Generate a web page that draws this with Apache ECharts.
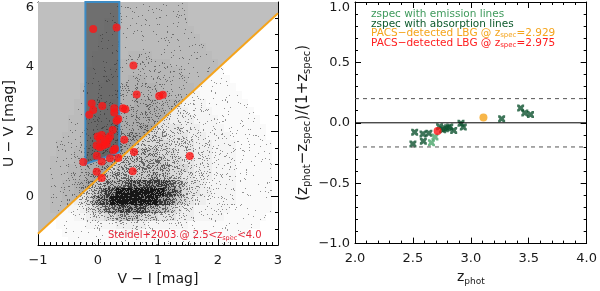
<!DOCTYPE html>
<html><head><meta charset="utf-8">
<script src="https://cdn.jsdelivr.net/npm/echarts@6/dist/echarts.min.js"></script>
<style>html,body{margin:0;padding:0;background:#fff}#c{width:600px;height:291px}</style>
</head><body><div id="c"></div>
<script>
// ---------- Left panel : V-I vs U-V ----------
const leftXRange = [-1, 3];
const leftYRange = [-1.5, 6];
const leftYTicks = [0, 2, 4, 6];
const cutLineX = [-1, 3];
const cutLineY = [-1.15, 5.65];
const boxX = [-0.21, 0.355];
const boxBottomY = [1.0, 1.37];
const boxTopY = 6;
// photometric sample density (levels 0-9); rows from U-V=6 downward, columns from V-I=-1 rightward
const cloudCellW = 0.1, cloudCellH = 0.25;
const cloudGrid = [
 "0000000000"+"0011111111"+"1111100000"+"0000000000",
 "0000000000"+"0011111111"+"1111100000"+"0000000000",
 "0000000000"+"0111111111"+"1111100000"+"0000000000",
 "0000000000"+"0111111111"+"1111110000"+"0000000000",
 "0000000000"+"1111111111"+"1111111000"+"0000000000",
 "0000000000"+"1111111111"+"1111111100"+"0000000000",
 "0000000001"+"1111122221"+"1111111110"+"0000000000",
 "0000000001"+"1112222222"+"2211111111"+"0000000000",
 "0000000011"+"1122222222"+"2222111111"+"1000000000",
 "0000000011"+"1222233322"+"2222211111"+"1100000000",
 "0000000111"+"2222333333"+"2222221111"+"1110000000",
 "0000000111"+"2223333333"+"3322222111"+"1111000000",
 "0000001112"+"2233334444"+"3333222211"+"1111100000",
 "0000001112"+"2333444444"+"4333322221"+"1111110000",
 "0000011122"+"3334444444"+"4433332222"+"1111111000",
 "0000011122"+"3344444555"+"4444333222"+"2111111100",
 "0000111223"+"3444455555"+"5444433322"+"2211111100",
 "0001111233"+"4445555555"+"5544443332"+"2221111110",
 "0001112233"+"4455556666"+"5554443332"+"2221111110",
 "0011112334"+"4555666666"+"6555443332"+"2221111110",
 "0011122344"+"5556666666"+"6655543332"+"2221111110",
 "0011122345"+"5666666667"+"6655443332"+"2221111110",
 "0011223456"+"6777788888"+"8876544322"+"2221111110",
 "0011223456"+"7889999999"+"9887544332"+"2221111110",
 "0011223457"+"8899999999"+"8876543322"+"2221111110",
 "0011122345"+"6778888877"+"6654332222"+"2211111110",
 "0001112234"+"4556666555"+"4443332222"+"2111111100",
 "0001111122"+"2223333322"+"2222211111"+"1111111000",
 "0000111111"+"1111222111"+"1111111111"+"1111100000",
 "0000011111"+"1111111111"+"1111111111"+"1100000000"
];
// Steidel+2003 LBGs at 2.5<zspec<4.0
const lbgVI = [-0.08,0.31,0.59,0.645,1.02,1.08,-0.105,0.072,-0.08,-0.145,0.27,0.27,0.417,0.455,0.338,0.31,
  0.245,0.2,-0.005,0.033,0.172,0.145,-0.022,0.033,0.089,0.283,0.255,0.438,0.062,-0.245,0.062,0.2,0.338,
  -0.02,0.6,-0.022,0.062,0.578,1.53,0.12];
const lbgUV = [5.17,5.21,4.04,3.15,3.10,3.14,2.87,2.79,2.67,2.52,2.72,2.59,2.72,2.69,2.39,2.34,
  2.05,1.86,1.85,1.78,1.78,1.62,1.57,1.52,1.57,1.47,1.42,1.75,1.90,1.06,1.08,1.18,1.19,
  1.26,1.37,0.76,0.57,0.78,1.25,1.68];

// ---------- Right panel : zphot vs (zphot-zspec)/(1+zspec) ----------
const rightXRange = [2, 4];
const rightYRange = [-1, 1];
const refLines = [0, 0.2, -0.2];
const emissionZ = [2.66, 2.69];
const emissionDz = [-0.165, -0.117];
const absorptionZ = [2.50, 2.515, 2.587, 2.59, 2.638, 2.73, 2.757, 2.78, 2.80, 2.818, 2.852, 2.915, 2.935, 3.266, 3.43, 3.466, 3.515];
const absorptionDz = [-0.175, -0.078, -0.092, -0.152, -0.086, -0.032, -0.057, -0.049, -0.041, -0.035, -0.063, -0.004, -0.035, 0.033, 0.122, 0.082, 0.068];
const pacsOrange = [3.109, 0.044];
const pacsRed = [2.713, -0.068];
const legendLines = [
  ['zspec with emission lines', ''],
  ['zspec with absorption lines', ''],
  ['PACS\u2212detected LBG @ z', '2.929'],
  ['PACS\u2212detected LBG @ z', '2.975']
];

// ---------- build ----------
const FONT = 'DejaVu Sans';
// grainy texture per density level: mean darkness m, half smooth, half deterministic grain
const cloudDarkness = [0, 0.03, 0.065, 0.11, 0.17, 0.25, 0.35, 0.48, 0.64, 0.85];
function grain(px, py) {
  let h = Math.imul(px + 1, 374761393) ^ Math.imul(py + 7, 668265263);
  h = Math.imul(h ^ (h >>> 13), 1274126177);
  h = h ^ (h >>> 16);
  return (h >>> 0) / 4294967296;
}
const TEX = 128;
const cloudTextures = cloudDarkness.map(m => {
  const cnv = document.createElement('canvas');
  cnv.width = cnv.height = TEX;
  const ctx = cnv.getContext('2d');
  const img = ctx.createImageData(TEX, TEX);
  for (let yy = 0; yy < TEX; yy++) for (let xx = 0; xx < TEX; xx++) {
    const a = 0.6 * m + (grain(xx, yy) < m ? 0.4 : 0);
    img.data[(yy * TEX + xx) * 4 + 3] = Math.round(255 * Math.min(1, a));
  }
  ctx.putImageData(img, 0, 0);
  return cnv;
});
const cloudData = [];
cloudGrid.forEach((row, r) => {
  for (let c = 0; c < row.length; c++) {
    const lv = +row[c];
    if (lv > 0) cloudData.push([leftXRange[0] + c * cloudCellW, leftYRange[1] - r * cloudCellH, lv]);
  }
});
const zip = (a, b) => a.map((v, i) => [v, b[i]]);
const minus = s => String(s).replace('-', '\u2212');
const near = (v, list) => list.some(t => Math.abs(v - t) < 1e-6);

const G0 = {left: 38, top: 2, width: 240, height: 245};
const G1 = {left: 355, top: 2, width: 234, height: 245};
const lineBlack = {show: true, onZero: false, lineStyle: {color: '#000', width: 1}};
const noLine = {show: false, onZero: false};
const noSplit = {show: false};
const TXT = '#1a1a1a';
const labelBase = {fontFamily: FONT, fontSize: 13, color: TXT};

function xAx(grid, pos, range, interval, minorSplit, labels, extra) {
  return Object.assign({
    type: 'value', gridIndex: grid, position: pos, min: range[0], max: range[1], interval: interval,
    axisLine: lineBlack, splitLine: noSplit,
    axisTick: {show: true, inside: true, length: 6, lineStyle: {color: '#000'}},
    minorTick: {show: true, splitNumber: minorSplit, length: 3, lineStyle: {color: '#000'}},
    axisLabel: labels ? labels : {show: false}
  }, extra || {});
}
function yAx(grid, pos, range, opts) {
  return Object.assign({type: 'value', gridIndex: grid, position: pos, min: range[0], max: range[1],
    axisLine: lineBlack, splitLine: noSplit, axisLabel: {show: false}}, opts);
}
const subRich = (size, sub) => ({
  n: {fontFamily: FONT, fontSize: size, color: TXT, lineHeight: size + 3, verticalAlign: 'middle'},
  s: {fontFamily: FONT, fontSize: sub, color: TXT, lineHeight: sub, verticalAlign: 'bottom'}
});

const option = {
  animation: false,
  backgroundColor: '#fff',
  grid: [G0, G1],
  xAxis: [
    xAx(0, 'bottom', leftXRange, 1, 10, Object.assign({margin: 9, formatter: v => minus(v)}, labelBase), {
      name: 'V \u2212 I [mag]', nameLocation: 'middle', nameGap: 25,
      nameTextStyle: {fontFamily: FONT, fontSize: 14, color: TXT}
    }),
    xAx(0, 'top', leftXRange, 1, 10, null),
    xAx(1, 'bottom', rightXRange, 0.5, 5, Object.assign({margin: 9, formatter: v => v.toFixed(1)}, labelBase), {
      name: '{n|z}{s|phot}', nameLocation: 'middle', nameGap: 24,
      nameTextStyle: {rich: subRich(14, 9)}
    }),
    xAx(1, 'top', rightXRange, 0.5, 5, null)
  ],
  yAxis: [
    yAx(0, 'left', leftYRange, { // minor ticks + labels
      interval: 0.5,
      axisTick: {show: true, inside: true, length: 3, lineStyle: {color: '#000'}},
      axisLabel: Object.assign({margin: 4, showMaxLabel: true, showMinLabel: true,
        formatter: v => near(v, leftYTicks) ? (v === leftYRange[1] ? '{t|' + v + '}' : minus(v)) : '',
        rich: {t: {fontFamily: FONT, fontSize: 13, color: TXT, padding: [11, 0, 0, 0]}}}, labelBase),
      name: 'U \u2212 V [mag]', nameLocation: 'middle', nameGap: 22,
      nameTextStyle: {fontFamily: FONT, fontSize: 14, color: TXT}
    }),
    yAx(0, 'left', leftYRange, {splitNumber: 4, axisLine: noLine,
      axisTick: {show: true, inside: true, length: 7, lineStyle: {color: '#000'}}}),
    yAx(0, 'right', leftYRange, {interval: 0.5,
      axisTick: {show: true, inside: true, length: 3, lineStyle: {color: '#000'}}}),
    yAx(0, 'right', leftYRange, {splitNumber: 4, axisLine: noLine,
      axisTick: {show: true, inside: true, length: 7, lineStyle: {color: '#000'}}}),
    yAx(1, 'left', rightYRange, {interval: 0.5,
      axisTick: {show: true, inside: true, length: 6, lineStyle: {color: '#000'}},
      minorTick: {show: true, splitNumber: 5, length: 3, lineStyle: {color: '#000'}},
      axisLabel: Object.assign({margin: 5, showMaxLabel: true,
        formatter: v => v === rightYRange[1] ? '{t|' + v.toFixed(1) + '}' : minus(v.toFixed(1)),
        rich: {t: {fontFamily: FONT, fontSize: 13, color: TXT, padding: [11, 0, 0, 0]}}}, labelBase),
      name: '{n|(z}{s|phot}{n|\u2212z}{s|spec}{n|)/(1+z}{s|spec}{n|)}', nameLocation: 'middle', nameGap: 43,
      nameTextStyle: {rich: subRich(15, 10)}
    }),
    yAx(1, 'right', rightYRange, {interval: 0.5,
      axisTick: {show: true, inside: true, length: 6, lineStyle: {color: '#000'}},
      minorTick: {show: true, splitNumber: 5, length: 3, lineStyle: {color: '#000'}}})
  ],
  series: [
    { // gray region above the cut line
      type: 'custom', xAxisIndex: 0, yAxisIndex: 0, z: 1, silent: true, data: [[cutLineX[0], cutLineY[0]]],
      renderItem: (p, api) => ({
        type: 'polygon',
        shape: {points: [api.coord([cutLineX[0], cutLineY[0]]), api.coord([cutLineX[1], cutLineY[1]]),
                         api.coord([cutLineX[1], leftYRange[1]]), api.coord([cutLineX[0], leftYRange[1]])]},
        style: {fill: '#bfbfbf'}
      })
    },
    { // photometric sample density
      type: 'custom', xAxisIndex: 0, yAxisIndex: 0, z: 2, silent: true, clip: true, data: cloudData,
      renderItem: (p, api) => {
        const x = api.value(0), y = api.value(1), lv = api.value(2);
        const a = api.coord([x, y]), b = api.coord([x + cloudCellW, y - cloudCellH]);
        const x0 = Math.round(a[0]), y0 = Math.round(a[1]), x1 = Math.round(b[0]), y1 = Math.round(b[1]);
        return {type: 'rect', shape: {x: x0, y: y0, width: x1 - x0, height: y1 - y0},
                style: {fill: {image: cloudTextures[lv], repeat: 'repeat'}}};
      }
    },
    { // selection box
      type: 'custom', xAxisIndex: 0, yAxisIndex: 0, z: 3, silent: true, data: [[boxX[0], boxBottomY[0]]],
      renderItem: (p, api) => ({
        type: 'polygon',
        shape: {points: [api.coord([boxX[0], boxBottomY[0]]), api.coord([boxX[1], boxBottomY[1]]),
                         api.coord([boxX[1], boxTopY]), api.coord([boxX[0], boxTopY])]},
        style: {fill: 'rgba(45,45,45,0.55)', stroke: '#3d8bc4', lineWidth: 2}
      })
    },
    { // cut line
      type: 'line', xAxisIndex: 0, yAxisIndex: 0, z: 4, silent: true, symbol: 'none',
      data: zip(cutLineX, cutLineY), lineStyle: {color: '#f5a41c', width: 2}
    },
    {
      type: 'scatter', xAxisIndex: 0, yAxisIndex: 0, z: 5, symbol: 'circle', symbolSize: 8,
      itemStyle: {color: '#ff1414'}, data: zip(lbgVI, lbgUV)
    },
    // right panel
    {
      type: 'line', xAxisIndex: 2, yAxisIndex: 4, symbol: 'none', silent: true,
      data: [[rightXRange[0], refLines[0]], [rightXRange[1], refLines[0]]], lineStyle: {color: '#000', width: 1}
    },
    {
      type: 'line', xAxisIndex: 2, yAxisIndex: 4, symbol: 'none', silent: true,
      data: [[rightXRange[0], refLines[1]], [rightXRange[1], refLines[1]]], lineStyle: {color: '#555', width: 1, type: [4, 4]}
    },
    {
      type: 'line', xAxisIndex: 2, yAxisIndex: 4, symbol: 'none', silent: true,
      data: [[rightXRange[0], refLines[2]], [rightXRange[1], refLines[2]]], lineStyle: {color: '#555', width: 1, type: [4, 4]}
    },
    {
      type: 'scatter', xAxisIndex: 2, yAxisIndex: 4, symbolSize: 7,
      symbol: 'path://M0,0L3,0L5,2L7,0L10,0L10,3L8,5L10,7L10,10L7,10L5,8L3,10L0,10L0,7L2,5L0,3Z',
      itemStyle: {color: '#0e5230'}, data: zip(absorptionZ, absorptionDz)
    },
    {
      type: 'scatter', xAxisIndex: 2, yAxisIndex: 4, symbolSize: 7,
      symbol: 'path://M0,0L3,0L5,2L7,0L10,0L10,3L8,5L10,7L10,10L7,10L5,8L3,10L0,10L0,7L2,5L0,3Z',
      itemStyle: {color: '#4aa56a'}, data: zip(emissionZ, emissionDz)
    },
    {
      type: 'scatter', xAxisIndex: 2, yAxisIndex: 4, symbolSize: 8, itemStyle: {color: '#f5a41c'}, data: [pacsOrange]
    },
    {
      type: 'scatter', xAxisIndex: 2, yAxisIndex: 4, symbolSize: 8, itemStyle: {color: '#ff1414'}, data: [pacsRed]
    }
  ],
  graphic: [
    {type: 'text', x: 108, y: 235, z: 100, zlevel: 1, style: {
      text: '{m|Steidel+2003 @ 2.5<z}{s|spec}{m|<4.0}', verticalAlign: 'middle',
      rich: {m: {fontFamily: FONT, fontSize: 10, fill: '#e8283a', lineHeight: 13, verticalAlign: 'middle'},
             s: {fontFamily: FONT, fontSize: 6.5, fill: '#e8283a', lineHeight: 7, verticalAlign: 'bottom'}}}}
  ].concat(legendLines.map((l, i) => {
    const cols = ['#3f9a5c', '#0d5a2c', '#f5a41c', '#ff1e1e'];
    const t = l[1] ? '{m|' + l[0] + '}{s|spec}{m|=' + l[1] + '}' : '{m|' + l[0] + '}';
    return {type: 'text', x: 371, y: [14.5, 24, 33, 43][i], z: 100, zlevel: 1, style: {
      text: t, verticalAlign: 'middle',
      rich: {m: {fontFamily: FONT, fontSize: 10.5, fill: cols[i], lineHeight: 12, verticalAlign: 'middle'},
             s: {fontFamily: FONT, fontSize: 7, fill: cols[i], lineHeight: 8, verticalAlign: 'bottom'}}}};
  }))
};
const chart = echarts.init(document.getElementById('c'));
chart.setOption(option);
</script></body></html>
